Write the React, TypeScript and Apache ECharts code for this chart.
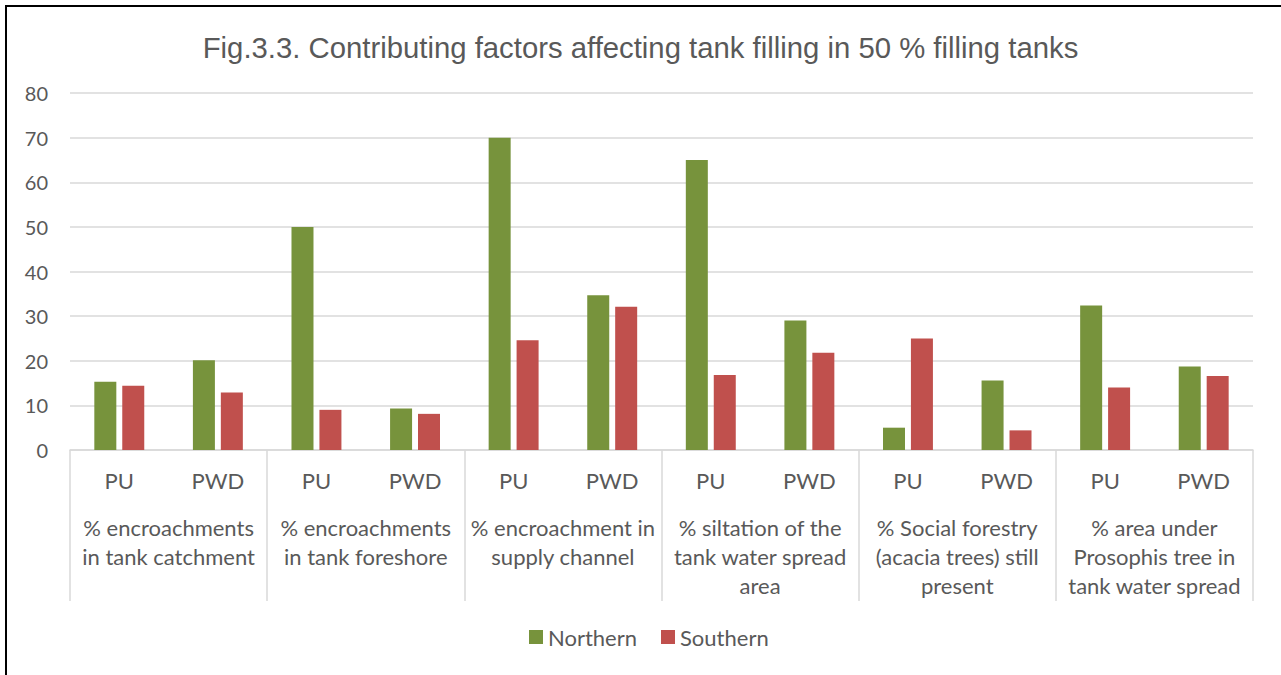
import React, { useEffect, useRef } from "react";
import * as echarts from "echarts";

const titleText = "Fig.3.3. Contributing factors affecting tank filling in 50 % filling tanks";
const subCategories = ["PU", "PWD", "PU", "PWD", "PU", "PWD", "PU", "PWD", "PU", "PWD", "PU", "PWD"];
const groupLabels = [
  "% encroachments\nin tank catchment",
  "% encroachments\nin tank foreshore",
  "% encroachment in\nsupply channel",
  "% siltation of the\ntank water spread\narea",
  "% Social forestry\n(acacia trees) still\npresent",
  "% area under\nProsophis tree in\ntank water spread",
];
const northern = [15.3, 20.1, 50, 9.3, 70, 34.7, 65, 29.0, 5, 15.6, 32.4, 18.7];
const southern = [14.4, 12.9, 9.0, 8.1, 24.6, 32.1, 16.8, 21.8, 25, 4.4, 14.0, 16.6];
const yMax = 80;
const yInterval = 10;

const TEXT = "#595959";
const GRID = "#D9D9D9";
const FONT = "Lato";

export default function App() {
  const ref = useRef<HTMLDivElement>(null);
  useEffect(() => {
    document.body.style.margin = "0";
    if (!ref.current) return;
    const chart = echarts.init(ref.current, null, { renderer: "svg" });
    chart.setOption({
      animation: false,
      backgroundColor: "#fff",
      title: {
        text: titleText,
        left: "center",
        top: 28,
        textStyle: { fontFamily: "Liberation Sans", fontSize: 29.3, fontWeight: "normal", color: TEXT },
      },
      legend: {
        bottom: 22,
        left: 524,
        icon: "rect",
        itemWidth: 14,
        itemHeight: 14,
        itemGap: 24,
        textStyle: { fontFamily: FONT, fontSize: 22, color: TEXT },
        data: ["Northern", "Southern"],
      },
      grid: { left: 70, right: 28, top: 93, bottom: 225, containLabel: false },
      xAxis: [
        {
          type: "category",
          data: subCategories,
          position: "bottom",
          axisLine: { show: true, lineStyle: { color: GRID, width: 1.5 } },
          axisTick: { show: false },
          axisLabel: { interval: 0, margin: 19, fontFamily: FONT, fontSize: 22, color: TEXT },
        },
        {
          type: "category",
          data: groupLabels,
          position: "bottom",
          offset: 0,
          axisLine: { show: false },
          axisTick: { show: true, length: 151, lineStyle: { color: GRID, width: 1.5 } },
          axisLabel: { interval: 0, margin: 63, fontFamily: FONT, fontSize: 22, lineHeight: 29, color: TEXT, align: "center" },
        },
      ],
      yAxis: {
        type: "value",
        min: 0,
        max: yMax,
        interval: yInterval,
        axisLine: { show: false },
        axisTick: { show: false },
        axisLabel: { margin: 22, fontFamily: FONT, fontSize: 20, color: TEXT },
        splitLine: { lineStyle: { color: GRID, width: 1.5 } },
      },
      series: [
        {
          name: "Northern",
          type: "bar",
          data: northern,
          barWidth: 22,
          barGap: "27%",
          itemStyle: { color: "#77933C" },
        },
        {
          name: "Southern",
          type: "bar",
          data: southern,
          barWidth: 22,
          barGap: "27%",
          itemStyle: { color: "#C0504D" },
        },
      ],
    });
    return () => chart.dispose();
  }, []);
  return (
    <div style={{ position: "relative", width: 1281, height: 675, background: "#fff" }}>
      <div ref={ref} style={{ width: 1281, height: 675 }} />
      <div
        style={{
          position: "absolute",
          left: 5,
          top: 5,
          width: 1290,
          height: 690,
          borderLeft: "2px solid #000",
          borderTop: "2px solid #000",
          pointerEvents: "none",
        }}
      />
    </div>
  );
}
